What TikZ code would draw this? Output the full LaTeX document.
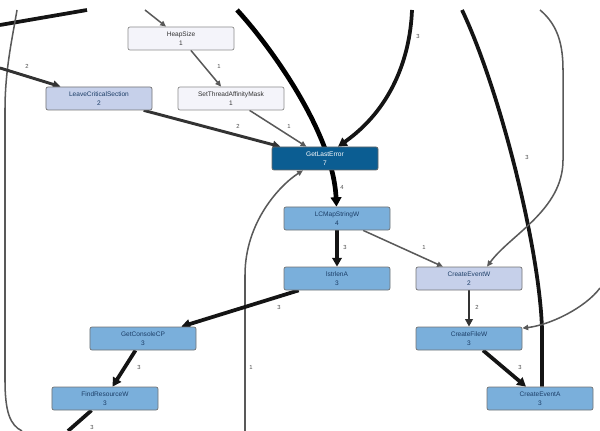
\documentclass[tikz,border=0pt]{standalone}
\usepackage{fontspec}
\setmainfont{Liberation Sans}
\usepackage{xcolor}
\usetikzlibrary{arrows.meta, calc, backgrounds}

\definecolor{isiPucat}{HTML}{F4F4FA}
\definecolor{isiUngu}{HTML}{C6D0EA}
\definecolor{isiBiru}{HTML}{7AAFDB}
\definecolor{isiTua}{HTML}{0B5D92}
\definecolor{teksBiru}{HTML}{1B3D66}

\begin{document}
\begin{tikzpicture}[
    x=0.03cm, y=-0.03cm,
    fungsi/.style={rounded corners=1.7pt, minimum height=0.69cm, minimum width=3.18cm, inner sep=1pt,
                   align=center, font=\fontsize{5.6}{8}\selectfont, line width=0.6pt},
    pucat/.style={fungsi, fill=isiPucat, draw=black!45, text=black!80},
    ungu/.style={fungsi, fill=isiUngu, draw=black!55, text=teksBiru},
    biru/.style={fungsi, fill=isiBiru, draw=black!55, text=teksBiru},
    tua/.style={fungsi, fill=isiTua, draw=black!60, text=white},
    tipis/.style={-{Triangle[length=5pt, width=4.5pt]}, line width=1.3pt, draw=black!65},
    sedang/.style={-{Triangle[length=6.5pt, width=6.5pt]}, line width=2.5pt, draw=black!80},
    tebal/.style={-{Triangle[length=7.5pt, width=8pt]}, line width=3.2pt, draw=black!92},
    tebalsekali/.style={-{Triangle[length=8pt, width=9pt]}, line width=4pt, draw=black},
    bobot/.style={font=\fontsize{5}{6}\selectfont, text=black!70, inner sep=0.5pt}
  ]
    \useasboundingbox (0,0) rectangle (600,431);
    \clip (0,0) rectangle (600,431);

    % fungsi
    \node[pucat] (hs)   at (181,38.5)  {HeapSize\\1};
    \node[ungu]  (lcs)  at (99,98.5)   {LeaveCriticalSection\\2};
    \node[pucat] (stam) at (231,98.5)  {SetThreadAffinityMask\\1};
    \node[tua]   (gle)  at (325,158.5) {GetLastError\\7};
    \node[biru]  (lcm)  at (337,218.5) {LCMapStringW\\4};
    \node[biru]  (len)  at (337,278.5) {lstrlenA\\3};
    \node[ungu]  (cew)  at (469,278.5) {CreateEventW\\2};
    \node[biru]  (gcp)  at (143,338.5) {GetConsoleCP\\3};
    \node[biru]  (cfw)  at (469,338.5) {CreateFileW\\3};
    \node[biru]  (frw)  at (105,398.5) {FindResourceW\\3};
    \node[biru]  (cea)  at (540,398.5) {CreateEventA\\3};

    % ujung bebas
    \coordinate (kiriA) at (0,25);
    \coordinate (kiriB) at (87,10);
    \coordinate (tepiA) at (17,10);
    \coordinate (tepiB) at (22,431);
    \coordinate (masukLcs) at (0,68);
    \coordinate (masukHs) at (145,10);
    \coordinate (atasGle) at (412,10);
    \coordinate (atasLcm) at (237,10);
    \coordinate (bawahGle) at (245,431);
    \coordinate (bawahFrw) at (68,431);
    \coordinate (atasCea) at (462,10);
    \coordinate (atasCew) at (540,10);
    \coordinate (kananCfw) at (600,288);

    \begin{scope}[on background layer]
      \draw[tebal, -] (kiriA) -- (kiriB);
      \draw[tipis, -] (tepiA) .. controls (12,40) and (5,70) .. (5,110) -- (5,380)
        .. controls (5,412) and (10,425) .. (tepiB);
      \draw[sedang] (masukLcs) -- (lcs);
      \draw[tipis] (masukHs) -- (hs);
      \draw[tipis] (hs) -- (stam);
      \draw[sedang] (lcs) -- (gle);
      \draw[tipis] (stam) -- (gle);
      \draw[tebal] (atasGle) .. controls (410,60) and (390,110) .. ($(gle.north)+(13,0)$);
      \draw[tebalsekali] (atasLcm) .. controls (265,40) and (333,130) .. (lcm);
      \draw[tipis] (bawahGle) -- (245,275) .. controls (245,222) and (280,185) .. ($(gle.south)+(-22,0)$);
      \draw[tebal] (lcm) -- (len);
      \draw[tipis] (lcm) -- (cew);
      \draw[sedang] (cew) -- (cfw);
      \draw[tebal] (cfw) -- (cea);
      \draw[tebal] (len) -- (gcp);
      \draw[tebal] (gcp) -- (frw);
      \draw[tebal, -] (frw) -- (bawahFrw);
      \draw[tebal, -] ($(cea.north)+(2,0)$) -- (542,330) .. controls (540,250) and (500,90) .. (atasCea);
      \draw[tipis] (atasCew) .. controls (558,25) and (563,45) .. (563,70) -- (563,160)
        .. controls (563,210) and (510,235) .. ($(cew.north)+(18,0)$);
      \draw[tipis] (kananCfw) .. controls (585,308) and (550,325) .. ($(cfw.north east)+(0,1.5)$);
    \end{scope}

    % bobot
    \node[bobot] (b1)  at (27,66)   {2};
    \node[bobot] (b2)  at (219,66)  {1};
    \node[bobot] (b3)  at (238,126) {2};
    \node[bobot] (b4)  at (289,126) {1};
    \node[bobot] (b5)  at (418,36)  {3};
    \node[bobot] (b6)  at (342,187) {4};
    \node[bobot] (b7)  at (345,247) {3};
    \node[bobot] (b8)  at (424,247) {1};
    \node[bobot] (b9)  at (527,157) {3};
    \node[bobot] (b10) at (279,307) {3};
    \node[bobot] (b11) at (477,307) {2};
    \node[bobot] (b12) at (139,367) {3};
    \node[bobot] (b13) at (251,367) {1};
    \node[bobot] (b14) at (520,367) {3};
    \node[bobot] (b15) at (92,427)  {3};
  \end{tikzpicture}
\end{document}
